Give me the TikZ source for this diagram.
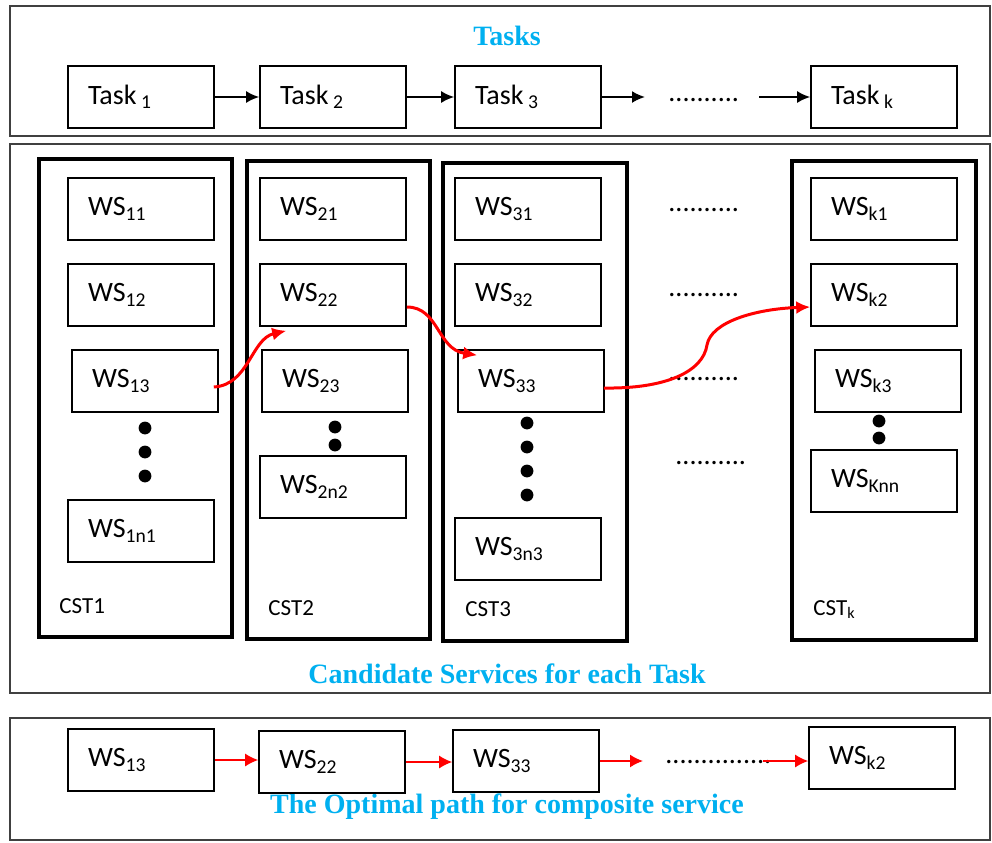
\documentclass[tikz,border=0pt]{standalone}
\usepackage{fontspec}
\setmainfont{Carlito}
\newfontfamily\headfont{Liberation Serif}
\usetikzlibrary{arrows.meta}
\definecolor{headblue}{RGB}{0,176,240}
\tikzset{
  outerbox/.style={draw=black!75,line width=0.8pt},
  cstbox/.style={draw,line width=1.6pt},
  ws/.style={draw,line width=0.8pt,minimum width=73pt,minimum height=31pt,
    text width=53pt,inner xsep=10pt,inner ysep=0pt,align=left,
    font=\fontsize{14}{16}\selectfont},
  heading/.style={text=headblue,font=\headfont\bfseries\fontsize{14}{16}\selectfont},
  cstlabel/.style={anchor=base west,inner sep=0pt,font=\fontsize{11.5}{13}\selectfont},
  dotrow/.style={anchor=base west,inner sep=0pt,font=\fontsize{14}{16}\selectfont},
  arr/.style={-{Latex[length=6.5pt,width=6pt]},line width=1pt},
  redarr/.style={-{Latex[length=6.5pt,width=6.5pt]},red,line width=0.8pt},
  redcurve/.style={-{Latex[length=7pt,width=6.5pt]},red,line width=1.5pt}
}
\begin{document}
\begin{tikzpicture}[x=0.5pt,y=-0.5pt]
\useasboundingbox (0,0) rectangle (992,842);
% the three outer frames
\draw[outerbox] (10,6) rectangle (990,136);
\draw[outerbox] (10,144) rectangle (990,693);
\draw[outerbox] (10,718) rectangle (990,840);
\node[heading] (h1) at (507,36) {Tasks};
\node[heading] (h2) at (507,674) {Candidate Services for each Task};
\node[heading] (h3) at (507,807) {The Optimal path for composite service};
% tasks
\node[ws] (t1) at (141,97) {Task\,\textsubscript{1}};
\node[ws] (t2) at (333,97) {Task\,\textsubscript{2}};
\node[ws] (t3) at (528,97) {Task\,\textsubscript{3}};
\node[ws] (tk) at (884,97) {Task\,\textsubscript{k}};
\node[dotrow] (td) at (668,101) {..........};
\coordinate (ta) at (645,97);
\coordinate (tb) at (759,97);
\draw[arr] (t1) -- (t2);
\draw[arr] (t2) -- (t3);
\draw[arr] (t3) -- (ta);
\draw[arr] (tb) -- (tk);
% candidate services
\draw[cstbox] (39,159) rectangle (232,637);
\draw[cstbox] (247,161) rectangle (430,639);
\draw[cstbox] (443,163) rectangle (627,641);
\draw[cstbox] (792,161) rectangle (976,640);
\node[cstlabel] (l1) at (59,613) {CST1};
\node[cstlabel] (l2) at (268,615) {CST2};
\node[cstlabel] (l3) at (465,616) {CST3};
\node[cstlabel] (lk) at (813,615) {CST\textsubscript{k}};
\node[ws] (ws11) at (141,209) {WS\textsubscript{11}};
\node[ws] (ws12) at (141,295) {WS\textsubscript{12}};
\node[ws] (ws13) at (145,381) {WS\textsubscript{13}};
\node[ws] (ws1n) at (141,531) {WS\textsubscript{1n1}};
\node[ws] (ws21) at (333,209) {WS\textsubscript{21}};
\node[ws] (ws22) at (333,295) {WS\textsubscript{22}};
\node[ws] (ws23) at (335,381) {WS\textsubscript{23}};
\node[ws] (ws2n) at (333,487) {WS\textsubscript{2n2}};
\node[ws] (ws31) at (528,209) {WS\textsubscript{31}};
\node[ws] (ws32) at (528,295) {WS\textsubscript{32}};
\node[ws] (ws33) at (531,381) {WS\textsubscript{33}};
\node[ws] (ws3n) at (528,549) {WS\textsubscript{3n3}};
\node[ws] (wsk1) at (884,209) {WS\textsubscript{k1}};
\node[ws] (wsk2) at (884,295) {WS\textsubscript{k2}};
\node[ws] (wsk3) at (888,381) {WS\textsubscript{k3}};
\node[ws] (wskn) at (884,481) {WS\textsubscript{Knn}};
\foreach \y in {428,452,476} \fill (145,\y) circle (3.2pt);
\foreach \y in {427,445} \fill (335,\y) circle (3.2pt);
\foreach \y in {423,447,471,495} \fill (527,\y) circle (3.2pt);
\foreach \y in {421,438} \fill (879,\y) circle (3.2pt);
\node[dotrow] (d1) at (668,211) {..........};
\node[dotrow] (d2) at (668,296) {..........};
\node[dotrow] (d3) at (668,380) {..........};
\node[dotrow] (d4) at (675,464) {..........};
% selected path
\draw[redcurve] ([xshift=-2.5pt,yshift=-3pt]ws13.east) .. controls +(35,-2) and +(-35,8) .. ([xshift=13.5pt,yshift=-2pt]ws22.south west);
\draw[redcurve] ([yshift=-6pt]ws22.east) .. controls +(32,0) and +(-40,-6) .. ([xshift=10pt,yshift=-3pt]ws33.north west);
\draw[redcurve] ([xshift=-0.5pt,yshift=-3.5pt]ws33.east) .. controls (665,389) and (703,372) .. (707,345)
  .. controls (711,322) and (755,309) .. ([yshift=-6pt]wsk2.west);
% optimal path
\node[ws] (b1) at (141,760) {WS\textsubscript{13}};
\node[ws] (b2) at (332,762) {WS\textsubscript{22}};
\node[ws] (b3) at (526,761) {WS\textsubscript{33}};
\node[ws] (bk) at (882,758) {WS\textsubscript{k2}};
\node[dotrow] (bd) at (665,763) {...............};
\coordinate (ba) at (643,761);
\coordinate (bb) at (763,761);
\draw[redarr] (b1.east) -- (b1.east -| b2.west);
\draw[redarr] (b2.east) -- (b2.east -| b3.west);
\draw[redarr] (b3.east) -- (ba);
\draw[redarr] (bb) -- (bb -| bk.west);
\end{tikzpicture}
\end{document}
